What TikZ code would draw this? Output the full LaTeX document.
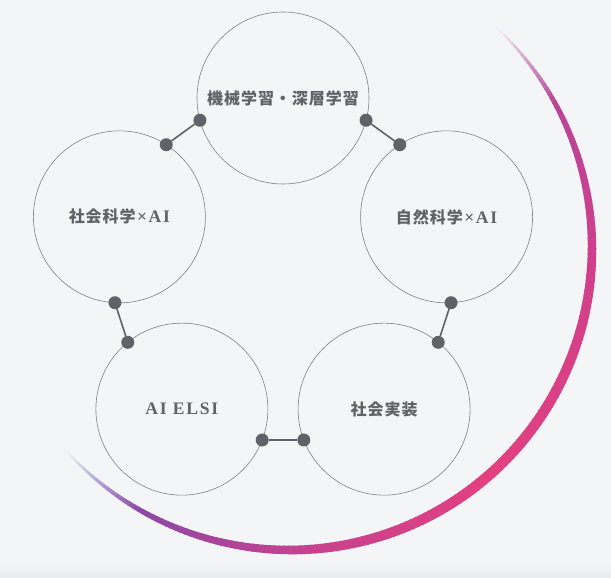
\documentclass[tikz,border=0pt]{standalone}
\usepackage{fontspec}
\usepackage{tikz}
\usetikzlibrary{calc}
\setmainfont{Liberation Serif}
\newfontfamily\jpfont[LetterSpace=6]{Noto Sans CJK JP}
\newfontfamily\latfont[LetterSpace=10,Scale=1.1]{Liberation Serif}
\definecolor{bg}{RGB}{244,245,247}
\definecolor{bgdark}{RGB}{232,233,236}
\definecolor{ring}{RGB}{128,128,128}
\definecolor{ink}{RGB}{95,99,104}
\definecolor{cTop}{RGB}{170,72,160}
\definecolor{cMid}{RGB}{205,64,140}
\definecolor{cPink}{RGB}{228,64,128}
\definecolor{cDeep}{RGB}{195,66,145}
\definecolor{cPlum}{RGB}{140,72,165}
\definecolor{cViolet}{RGB}{90,80,185}

\begin{document}
\begin{tikzpicture}[x=1pt,y=1pt,
    hub/.style={circle,draw=ring,line width=0.6pt,minimum size=172pt,inner sep=0pt,outer sep=0pt,text=ink,font=\fontsize{16}{18}\selectfont\bfseries},
    dot/.style={circle,fill=ink,minimum size=13pt,inner sep=0pt,outer sep=0pt},
    link/.style={draw=ink,line width=1.6pt}
  ]
  \fill[bg] (-283,-308) rectangle (328,270);
  \shade[top color=bg,bottom color=bgdark] (-283,-294) rectangle (328,-308);
  \useasboundingbox (-283,-308) rectangle (328,270);
  \coordinate (arcc) at (7,22);
  \foreach \a/\b/\ca/\cb in {48/0/cTop/cMid,0/-50/cMid/cPink,-50/-90/cPink/cDeep,-90/-120/cDeep/cPlum,-120/-138/cPlum/cViolet}{
    \pgfmathtruncatemacro\n{\a-\b}
    \foreach \k in {1,...,\n}{
      \pgfmathsetmacro\ang{\a-\k+1}
      \pgfmathsetmacro\t{(48-\ang)/186}
      \pgfmathsetmacro\w{10.5*max(sin(180*\t),0.01)^0.65}
      \pgfmathtruncatemacro\q{100*min(1,10*\t,10*(1-\t))}
      \pgfmathtruncatemacro\p{100*\k/\n}
      \draw[line width=\w pt,draw={\cb!\p!\ca!\q!bg}] ($(arcc)+(\ang:302)$) arc[start angle=\ang,end angle=\ang-1.3,radius=302];
    }
  }
  \node[hub] (ml) at (90:172) {\jpfont 機械学習・深層学習};
  \node[hub] (ss) at (162:172) {\jpfont 社会科学\latfont\hspace{1.5pt}×\hspace{1.5pt}AI};
  \node[hub] (elsi) at (234:172) {\latfont AI ELSI};
  \node[hub] (impl) at (306:172) {\jpfont 社会実装};
  \node[hub] (ns) at (18:172) {\jpfont 自然科学\latfont\hspace{1.5pt}×\hspace{1.5pt}AI};
  \foreach \u/\ua/\v/\va in {ml/195/ss/57,ss/267/elsi/129,elsi/339/impl/201,impl/51/ns/273,ns/123/ml/345}{
    \node[dot] (\u-\ua) at (\u.\ua) {};
    \node[dot] (\v-\va) at (\v.\va) {};
    \draw[link] (\u-\ua) -- (\v-\va);
  }
\end{tikzpicture}
\end{document}
